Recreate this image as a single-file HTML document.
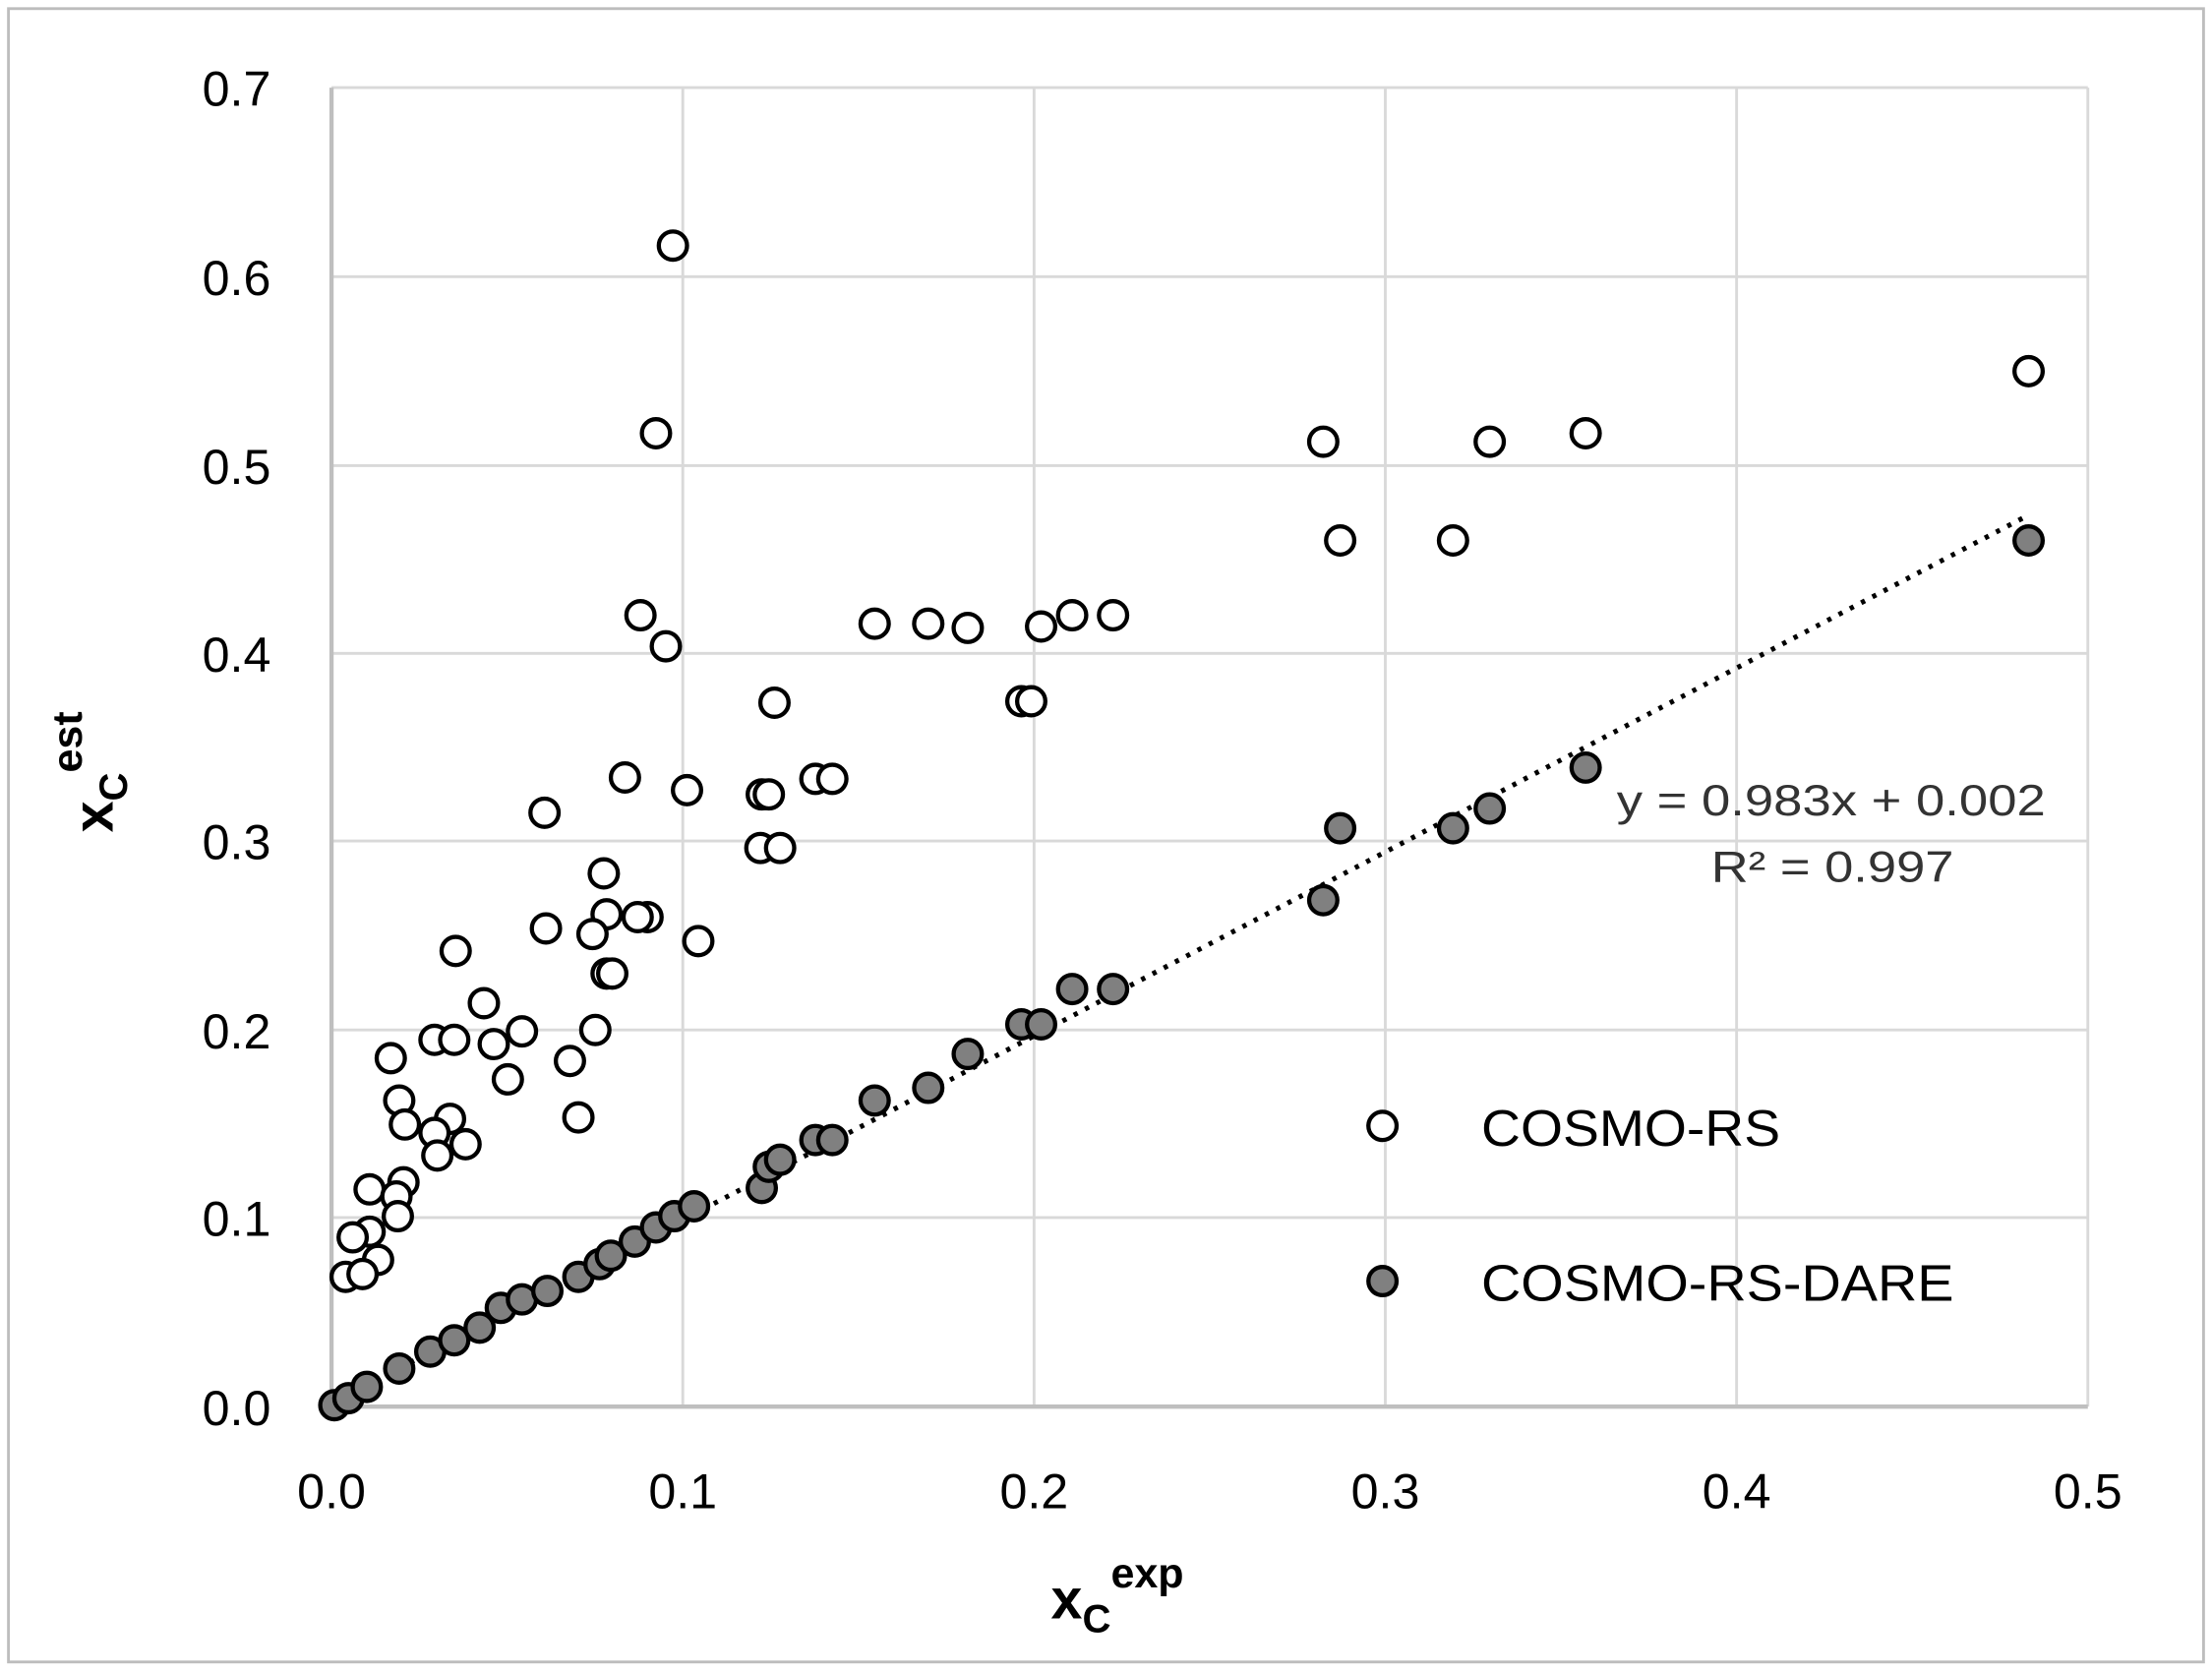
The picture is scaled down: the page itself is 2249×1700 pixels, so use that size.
<!DOCTYPE html>
<html><head><meta charset="utf-8"><style>html,body{margin:0;padding:0;background:#fff}svg{display:block}</style></head><body>
<svg width="2249" height="1700" viewBox="0 0 1568 1185" xmlns="http://www.w3.org/2000/svg" font-family="Liberation Sans, sans-serif">
<rect x="0" y="0" width="1568" height="1185" fill="#fff"/>
<rect x="6" y="6" width="1556" height="1172" fill="none" stroke="#bdbdbd" stroke-width="2"/>
<g stroke="#d9d9d9" stroke-width="2">
<line x1="235" y1="62" x2="1480" y2="62"/><line x1="235" y1="196" x2="1480" y2="196"/><line x1="235" y1="330" x2="1480" y2="330"/><line x1="235" y1="463" x2="1480" y2="463"/><line x1="235" y1="596" x2="1480" y2="596"/><line x1="235" y1="730" x2="1480" y2="730"/><line x1="235" y1="863" x2="1480" y2="863"/>
<line x1="484" y1="62" x2="484" y2="997"/><line x1="733" y1="62" x2="733" y2="997"/><line x1="982" y1="62" x2="982" y2="997"/><line x1="1231" y1="62" x2="1231" y2="997"/><line x1="1480" y1="62" x2="1480" y2="997"/>
</g>
<line x1="235" y1="62" x2="235" y2="997" stroke="#bfbfbf" stroke-width="3"/>
<line x1="235" y1="997" x2="1480" y2="997" stroke="#bfbfbf" stroke-width="3"/>
<g font-size="35" fill="#000" text-anchor="end">
<text x="192" y="75">0.7</text><text x="192" y="209">0.6</text><text x="192" y="343">0.5</text><text x="192" y="476">0.4</text><text x="192" y="609">0.3</text><text x="192" y="743">0.2</text><text x="192" y="876">0.1</text><text x="192" y="1010">0.0</text>
</g>
<g font-size="35" fill="#000" text-anchor="middle">
<text x="235" y="1069">0.0</text><text x="484" y="1069">0.1</text><text x="733" y="1069">0.2</text><text x="982" y="1069">0.3</text><text x="1231" y="1069">0.4</text><text x="1480" y="1069">0.5</text>
</g>
<text x="745" y="1147" font-size="40" font-weight="bold">x<tspan font-size="28" dy="10">C</tspan><tspan font-size="30" dy="-32">exp</tspan></text>
<text transform="translate(80,590) rotate(-90)" font-size="40" font-weight="bold">x<tspan font-size="28" dy="10">C</tspan><tspan font-size="30" dy="-32">est</tspan></text>
<line x1="235" y1="995" x2="1438" y2="365" stroke="#000" stroke-width="3.5" stroke-dasharray="3,6"/>
<text x="1146" y="578" font-size="31" fill="#333" textLength="304" lengthAdjust="spacingAndGlyphs">y = 0.983x + 0.002</text>
<text x="1213" y="625" font-size="31" fill="#333" textLength="172" lengthAdjust="spacingAndGlyphs">R² = 0.997</text>
<g fill="#fff" stroke="#000" stroke-width="3">
<circle cx="477" cy="174" r="10"/><circle cx="465" cy="307" r="10"/><circle cx="454" cy="436" r="10"/><circle cx="472" cy="458" r="10"/><circle cx="443" cy="551" r="10"/><circle cx="549" cy="498" r="10"/><circle cx="487" cy="560" r="10"/><circle cx="386" cy="576" r="10"/><circle cx="540" cy="563" r="10"/><circle cx="545" cy="563" r="10"/><circle cx="539" cy="601" r="10"/><circle cx="553" cy="601" r="10"/><circle cx="578" cy="552" r="10"/><circle cx="590" cy="552" r="10"/><circle cx="620" cy="442" r="10"/><circle cx="658" cy="442" r="10"/><circle cx="686" cy="445" r="10"/><circle cx="738" cy="444" r="10"/><circle cx="760" cy="436" r="10"/><circle cx="789" cy="436" r="10"/><circle cx="724" cy="497" r="10"/><circle cx="731" cy="497" r="10"/><circle cx="428" cy="619" r="10"/><circle cx="387" cy="658" r="10"/><circle cx="323" cy="674" r="10"/><circle cx="459" cy="650" r="10"/><circle cx="452" cy="650" r="10"/><circle cx="430" cy="648" r="10"/><circle cx="420" cy="662" r="10"/><circle cx="495" cy="667" r="10"/><circle cx="430" cy="690" r="10"/><circle cx="434" cy="690" r="10"/><circle cx="343" cy="711" r="10"/><circle cx="308" cy="737" r="10"/><circle cx="322" cy="737" r="10"/><circle cx="350" cy="740" r="10"/><circle cx="370" cy="731" r="10"/><circle cx="360" cy="765" r="10"/><circle cx="422" cy="730" r="10"/><circle cx="404" cy="752" r="10"/><circle cx="410" cy="792" r="10"/><circle cx="277" cy="750" r="10"/><circle cx="283" cy="780" r="10"/><circle cx="287" cy="797" r="10"/><circle cx="319" cy="793" r="10"/><circle cx="308" cy="803" r="10"/><circle cx="330" cy="811" r="10"/><circle cx="310" cy="819" r="10"/><circle cx="286" cy="838" r="10"/><circle cx="262" cy="843" r="10"/><circle cx="281" cy="848" r="10"/><circle cx="282" cy="862" r="10"/><circle cx="262" cy="873" r="10"/><circle cx="250" cy="877" r="10"/><circle cx="268" cy="893" r="10"/><circle cx="245" cy="905" r="10"/><circle cx="257" cy="903" r="10"/><circle cx="938" cy="313" r="10"/><circle cx="1056" cy="313" r="10"/><circle cx="1124" cy="307" r="10"/><circle cx="1438" cy="263" r="10"/><circle cx="950" cy="383" r="10"/><circle cx="1030" cy="383" r="10"/>
<circle cx="980" cy="798" r="10"/>
</g>
<g fill="#808080" stroke="#000" stroke-width="3">
<circle cx="237" cy="996" r="10"/><circle cx="247" cy="991" r="10"/><circle cx="260" cy="983" r="10"/><circle cx="283" cy="970" r="10"/><circle cx="305" cy="958" r="10"/><circle cx="322" cy="950" r="10"/><circle cx="340" cy="941" r="10"/><circle cx="355" cy="927" r="10"/><circle cx="370" cy="921" r="10"/><circle cx="388" cy="915" r="10"/><circle cx="410" cy="905" r="10"/><circle cx="425" cy="896" r="10"/><circle cx="433" cy="890" r="10"/><circle cx="450" cy="880" r="10"/><circle cx="465" cy="870" r="10"/><circle cx="478" cy="862" r="10"/><circle cx="492" cy="855" r="10"/><circle cx="540" cy="842" r="10"/><circle cx="545" cy="827" r="10"/><circle cx="553" cy="822" r="10"/><circle cx="578" cy="808" r="10"/><circle cx="590" cy="808" r="10"/><circle cx="620" cy="780" r="10"/><circle cx="658" cy="771" r="10"/><circle cx="686" cy="747" r="10"/><circle cx="724" cy="726" r="10"/><circle cx="738" cy="726" r="10"/><circle cx="760" cy="701" r="10"/><circle cx="789" cy="701" r="10"/><circle cx="938" cy="638" r="10"/><circle cx="950" cy="587" r="10"/><circle cx="1030" cy="587" r="10"/><circle cx="1056" cy="573" r="10"/><circle cx="1124" cy="544" r="10"/><circle cx="1438" cy="383" r="10"/>
<circle cx="980" cy="908" r="10"/>
</g>
<text x="1050" y="812" font-size="36" fill="#000" textLength="212" lengthAdjust="spacingAndGlyphs">COSMO-RS</text>
<text x="1050" y="922" font-size="36" fill="#000" textLength="335" lengthAdjust="spacingAndGlyphs">COSMO-RS-DARE</text>
</svg>
</body></html>
